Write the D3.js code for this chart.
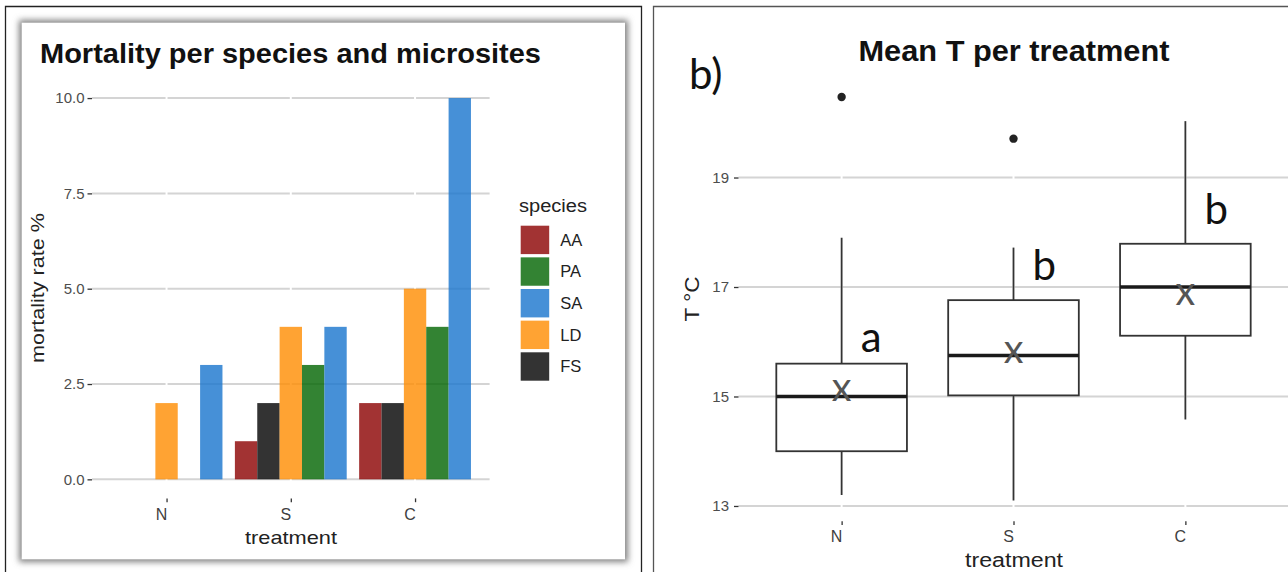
<!DOCTYPE html>
<html>
<head>
<meta charset="utf-8">
<script src="https://cdn.jsdelivr.net/npm/d3@7"></script>
<style>
  html, body { margin: 0; padding: 0; background: #fff; }
  svg { display: block; }
  text { font-family: "Liberation Sans", Arial, sans-serif; }
  .hand { font-family: Lato, "Open Sans", sans-serif; }
</style>
</head>
<body>
<svg id="fig" width="1288" height="572"></svg>
<script>
// ---- Panel (a): mortality per species and microsite ----
const treatments = ["N", "S", "C"];
const speciesLegend = ["AA", "PA", "SA", "LD", "FS"];
const speciesDodge = ["AA", "FS", "LD", "PA", "SA"];   // bar order inside each group
const mortAA = [0, 1, 2];
const mortPA = [0, 3, 4];
const mortSA = [3, 4, 10];
const mortLD = [2, 4, 5];
const mortFS = [0, 2, 2];
const mortTicks = [0, 2.5, 5, 7.5, 10];
const mortTickLabels = ["0.0", "2.5", "5.0", "7.5", "10.0"];

// ---- Panel (b): mean temperature per treatment ----
const tempLow      = [13.2, 13.1, 14.58];
const tempQ1       = [14.0, 15.02, 16.11];
const tempMedian   = [15.0, 15.75, 17.0];
const tempQ3       = [15.6, 16.76, 17.79];
const tempHigh     = [17.9, 17.72, 20.03];
const tempMean     = [15.1, 15.8, 16.86];
const tempOutliers = [[20.47], [19.71], []];
const tempLetters  = ["a", "b", "b"];
const tempTicks = [13, 15, 17, 19];
const tempTickLabels = ["13", "15", "17", "19"];

const mortBySpecies = { AA: mortAA, PA: mortPA, SA: mortSA, LD: mortLD, FS: mortFS };
const speciesColor = { AA: "#8B0000", PA: "#006400", SA: "#1874CD", LD: "#FF8C00", FS: "#000000" };

const svg = d3.select("#fig");
const defs = svg.append("defs");
defs.append("filter").attr("id", "soft").attr("x", "-10%").attr("y", "-10%")
  .attr("width", "120%").attr("height", "120%")
  .append("feGaussianBlur").attr("stdDeviation", 3);

// outer frames
svg.append("path").attr("d", "M5.5,572V6.5H641.5V572")
  .attr("fill", "none").attr("stroke", "#222").attr("stroke-width", 1.3);
svg.append("path").attr("d", "M653.5,572V6.5H1290")
  .attr("fill", "none").attr("stroke", "#555").attr("stroke-width", 1.3);

// framed picture with soft shadow
svg.append("rect").attr("x", 19).attr("y", 20).attr("width", 609).attr("height", 542)
  .attr("fill", "#808080").attr("filter", "url(#soft)");
svg.append("rect").attr("x", 21.7).attr("y", 22.7).attr("width", 603.3).attr("height", 536.6)
  .attr("fill", "#fff");

// ================= Panel (a) =================
const A = svg.append("g");
const xA = d3.scalePoint().domain(treatments).range([92, 489.6]).padding(0.6);
const yA = d3.scaleLinear().domain([-0.5, 10.5]).range([498.4, 79]);
const groupW = xA.step() * 0.9;
const xDodge = d3.scaleBand().domain(speciesDodge).range([-groupW / 2, groupW / 2]);

// horizontal grid
A.append("g").selectAll("line").data(mortTicks).join("line")
  .attr("x1", 92).attr("x2", 489.6)
  .attr("y1", d => yA(d)).attr("y2", d => yA(d))
  .attr("stroke", "#d4d4d4").attr("stroke-width", 2);
// vertical grid (white)
A.append("g").selectAll("line").data(treatments).join("line")
  .attr("x1", d => xA(d)).attr("x2", d => xA(d))
  .attr("y1", 79).attr("y2", 498.4)
  .attr("stroke", "#fff").attr("stroke-width", 2);

// bars
const barData = [];
treatments.forEach((t, i) => speciesDodge.forEach(s => barData.push({ t, s, v: mortBySpecies[s][i] })));
A.append("g").selectAll("rect").data(barData).join("rect")
  .attr("x", d => xA(d.t) + xDodge(d.s))
  .attr("width", xDodge.bandwidth())
  .attr("y", d => yA(d.v))
  .attr("height", d => yA(0) - yA(d.v))
  .attr("fill", d => speciesColor[d.s])
  .attr("fill-opacity", 0.8);

// axes
const axA = A.append("g").attr("transform", "translate(92,0)")
  .call(d3.axisLeft(yA).tickValues(mortTicks)
    .tickFormat((d, i) => mortTickLabels[i]).tickSize(4.5).tickPadding(3));
axA.select(".domain").remove();
axA.selectAll("line").attr("stroke", "#333").attr("stroke-width", 1.3);
axA.selectAll("text").attr("font-size", 15).attr("fill", "#4d4d4d")
  .attr("font-family", "Liberation Sans, Arial, sans-serif");

const axAx = A.append("g").attr("transform", "translate(0,498.4)")
  .call(d3.axisBottom(xA).tickSize(3.8).tickPadding(6));
axAx.select(".domain").remove();
axAx.selectAll("line").attr("stroke", "#333").attr("stroke-width", 1.3);
axAx.selectAll("text").attr("font-size", 16).attr("fill", "#404040").attr("dx", -5.5)
  .attr("font-family", "Liberation Sans, Arial, sans-serif");

// titles
A.append("text").attr("x", 40).attr("y", 63)
  .attr("font-size", 28).attr("font-weight", "bold").attr("fill", "#111")
  .attr("textLength", 501).attr("lengthAdjust", "spacingAndGlyphs")
  .text("Mortality per species and microsites");
A.append("text").attr("transform", "translate(44,288) rotate(-90)")
  .attr("text-anchor", "middle").attr("font-size", 19).attr("fill", "#222")
  .attr("textLength", 150).attr("lengthAdjust", "spacingAndGlyphs")
  .text("mortality rate %");
A.append("text").attr("x", 291).attr("y", 544)
  .attr("text-anchor", "middle").attr("font-size", 19).attr("fill", "#222")
  .attr("textLength", 92).attr("lengthAdjust", "spacingAndGlyphs")
  .text("treatment");

// legend
const leg = A.append("g");
leg.append("text").attr("x", 519).attr("y", 211.5).attr("font-size", 18).attr("fill", "#222")
  .attr("textLength", 68).attr("lengthAdjust", "spacingAndGlyphs").text("species");
const legItems = leg.selectAll("g.item").data(speciesLegend).join("g")
  .attr("class", "item")
  .attr("transform", (d, i) => `translate(520.7,${225.7 + i * 31.65})`);
legItems.append("rect").attr("width", 28.5).attr("height", 28.4)
  .attr("fill", d => speciesColor[d]).attr("fill-opacity", 0.8);
legItems.append("text").attr("x", 39.5).attr("y", 14.2).attr("dy", "0.36em")
  .attr("font-size", 16.5).attr("fill", "#222").text(d => d);

// ================= Panel (b) =================
const B = svg.append("g");
const xB = d3.scalePoint().domain(treatments).range([738.5, 1288.5]).padding(0.6);
const yB = d3.scaleLinear().domain([12.72, 20.84]).range([521.3, 76.8]);
const boxW = xB.step() * 0.76;

B.append("g").selectAll("line").data(tempTicks).join("line")
  .attr("x1", 738.5).attr("x2", 1288.5)
  .attr("y1", d => yB(d)).attr("y2", d => yB(d))
  .attr("stroke", "#d4d4d4").attr("stroke-width", 2);
B.append("g").selectAll("line").data(treatments).join("line")
  .attr("x1", d => xB(d)).attr("x2", d => xB(d))
  .attr("y1", 76.8).attr("y2", 521.3)
  .attr("stroke", "#fff").attr("stroke-width", 2);

const boxes = treatments.map((t, i) => ({
  t, lo: tempLow[i], q1: tempQ1[i], med: tempMedian[i], q3: tempQ3[i], hi: tempHigh[i],
  mean: tempMean[i], out: tempOutliers[i], letter: tempLetters[i]
}));
const bx = B.append("g").selectAll("g").data(boxes).join("g");
// whiskers
bx.append("line").attr("x1", d => xB(d.t)).attr("x2", d => xB(d.t))
  .attr("y1", d => yB(d.hi)).attr("y2", d => yB(d.q3))
  .attr("stroke", "#333").attr("stroke-width", 1.8);
bx.append("line").attr("x1", d => xB(d.t)).attr("x2", d => xB(d.t))
  .attr("y1", d => yB(d.q1)).attr("y2", d => yB(d.lo))
  .attr("stroke", "#333").attr("stroke-width", 1.8);
// box
bx.append("rect").attr("x", d => xB(d.t) - boxW / 2).attr("width", boxW)
  .attr("y", d => yB(d.q3)).attr("height", d => yB(d.q1) - yB(d.q3))
  .attr("fill", "#fff").attr("stroke", "#333").attr("stroke-width", 1.8);
// median
bx.append("line").attr("x1", d => xB(d.t) - boxW / 2).attr("x2", d => xB(d.t) + boxW / 2)
  .attr("y1", d => yB(d.med)).attr("y2", d => yB(d.med))
  .attr("stroke", "#1a1a1a").attr("stroke-width", 3.4);
// outliers
bx.selectAll("circle").data(d => d.out.map(v => ({ t: d.t, v }))).join("circle")
  .attr("cx", d => xB(d.t)).attr("cy", d => yB(d.v)).attr("r", 4.2).attr("fill", "#222");
// mean marker
bx.append("text").attr("class", "hand")
  .attr("x", d => xB(d.t)).attr("y", d => yB(d.mean)).attr("dy", "0.36em")
  .attr("text-anchor", "middle").attr("font-size", 29).attr("font-weight", 600).attr("fill", "#555")
  .text("X");
// group letters
bx.append("text").attr("class", "hand")
  .attr("x", d => xB(d.t) + 19).attr("y", d => yB(d.q3) - (d.letter === "a" ? 12 : 20))
  .attr("font-size", 42).attr("fill", "#111")
  .text(d => d.letter);

// axes
const axB = B.append("g").attr("transform", "translate(738.5,0)")
  .call(d3.axisLeft(yB).tickValues(tempTicks)
    .tickFormat((d, i) => tempTickLabels[i]).tickSize(4.5).tickPadding(5));
axB.select(".domain").remove();
axB.selectAll("line").attr("stroke", "#333").attr("stroke-width", 1.3);
axB.selectAll("text").attr("font-size", 15).attr("fill", "#4d4d4d")
  .attr("font-family", "Liberation Sans, Arial, sans-serif");

const axBx = B.append("g").attr("transform", "translate(0,521.3)")
  .call(d3.axisBottom(xB).tickSize(3.8).tickPadding(6));
axBx.select(".domain").remove();
axBx.selectAll("line").attr("stroke", "#333").attr("stroke-width", 1.3);
axBx.selectAll("text").attr("font-size", 16).attr("fill", "#404040").attr("dx", -5.5)
  .attr("font-family", "Liberation Sans, Arial, sans-serif");

B.append("text").attr("x", 1014).attr("y", 60.5).attr("text-anchor", "middle")
  .attr("font-size", 30).attr("font-weight", "bold").attr("fill", "#111")
  .attr("textLength", 311).attr("lengthAdjust", "spacingAndGlyphs")
  .text("Mean T per treatment");
B.append("text").attr("transform", "translate(699,299) rotate(-90)")
  .attr("text-anchor", "middle").attr("font-size", 20).attr("fill", "#222")
  .attr("textLength", 45).attr("lengthAdjust", "spacingAndGlyphs")
  .text("T °C");
B.append("text").attr("x", 1014).attr("y", 567).attr("text-anchor", "middle")
  .attr("font-size", 20).attr("fill", "#222")
  .attr("textLength", 98).attr("lengthAdjust", "spacingAndGlyphs")
  .text("treatment");
B.append("text").attr("class", "hand").attr("x", 689).attr("y", 89)
  .attr("font-size", 42).attr("fill", "#111").text("b)");
</script>
</body>
</html>
